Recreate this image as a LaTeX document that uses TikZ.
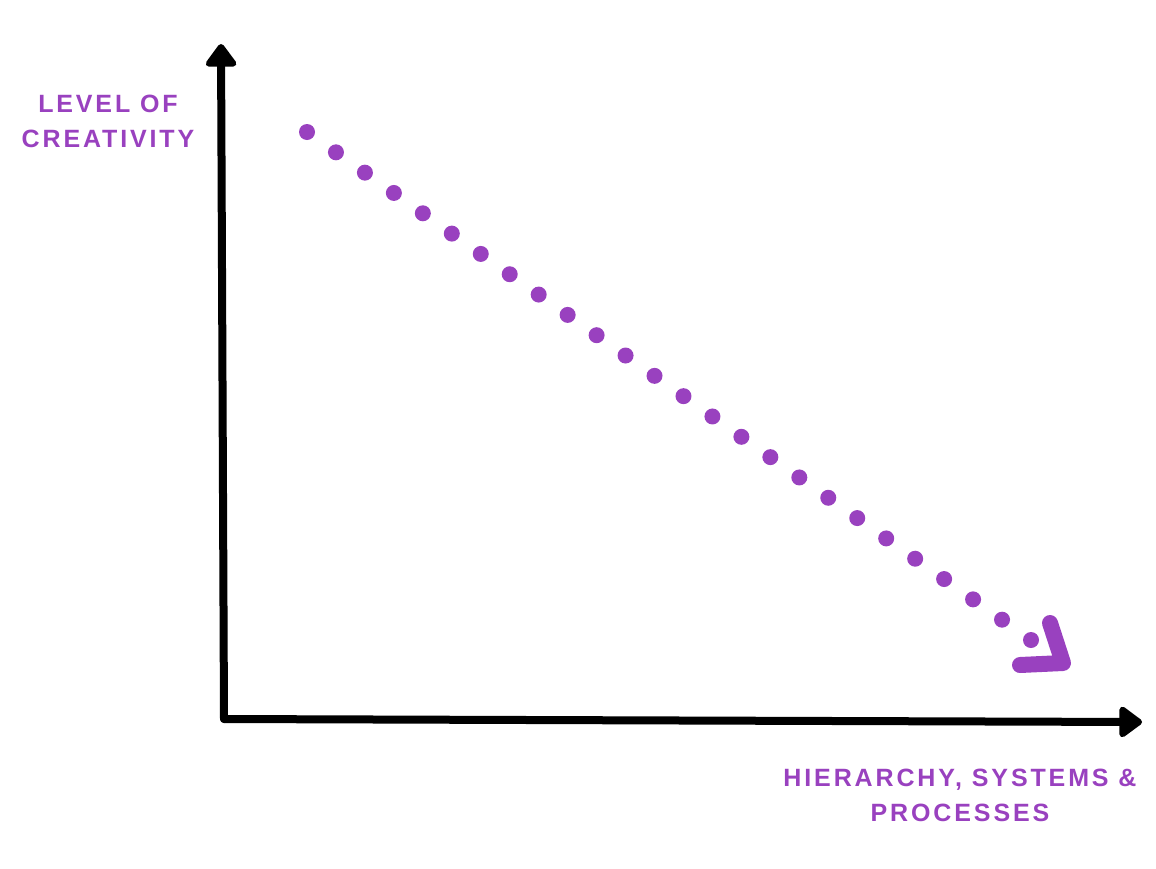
\documentclass[tikz,border=0pt]{standalone}
\usepackage{fontspec}
\setmainfont{Liberation Sans}
\usetikzlibrary{arrows.meta}
\newfontfamily\axisfont[LetterSpace=11.5]{Liberation Sans Bold}
\definecolor{creapurple}{RGB}{153,65,191}

\begin{document}
\begin{tikzpicture}[x=1pt,y=-1pt,
    axis/.style={line width=8, line cap=round, -{Triangle[length=25,width=35,round]}},
    axislabel/.style={text=creapurple, align=center, font=\fontsize{25}{35}\selectfont\axisfont, inner sep=0},
    dot/.style={fill=creapurple}]
  \useasboundingbox (0,0) rectangle (1156,868);
  \coordinate (o) at (224,719);
  \coordinate (ytip) at (221,44);
  \coordinate (xtip) at (1142,722);

  \draw[axis] (o) -- (ytip);
  \draw[axis] (o) -- (xtip);

  \node[axislabel] (ylab) at (108,121) {LEVEL OF\\CREATIVITY};
  \node[axislabel] (xlab) at (960,795) {HIERARCHY, SYSTEMS \&\\PROCESSES};

  % dotted trend
  \foreach \i in {0,...,25}
    \fill[dot] (307+\i*28.96, 132+\i*20.32) circle (8);
  \coordinate (c1) at (1050,623);
  \coordinate (c2) at (1063,663);
  \coordinate (c3) at (1020,665);
  \draw[creapurple, line width=16, line cap=round, line join=round] (c1) -- (c2) -- (c3);
\end{tikzpicture}
\end{document}
